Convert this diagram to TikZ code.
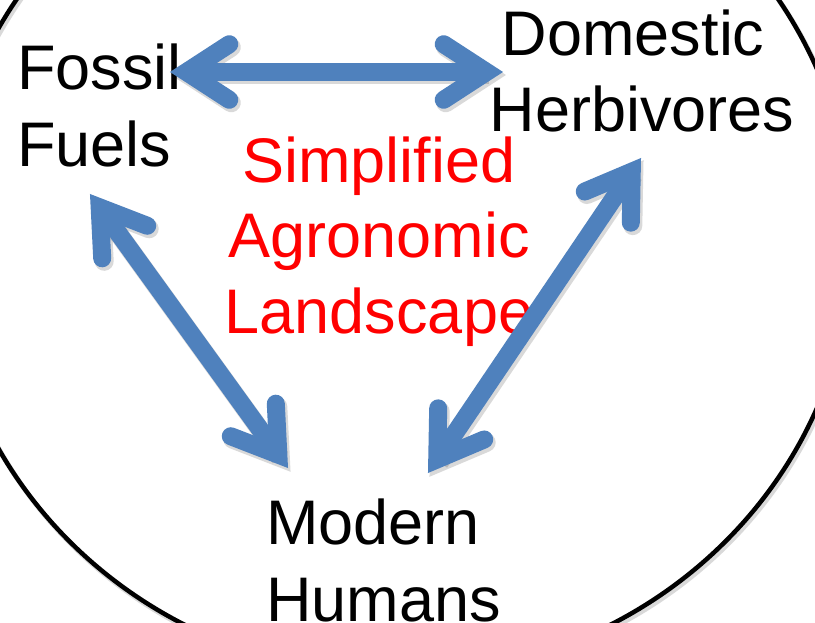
\documentclass[tikz,border=0pt]{standalone}
\usepackage{fontspec}
\setmainfont{Liberation Sans}
\usetikzlibrary{calc}
\definecolor{arrowblue}{RGB}{79,129,189}
\definecolor{labelred}{RGB}{255,0,0}
\newcommand\chevarrow[2]{%
  \coordinate (#1v) at ($(#1)!16.5pt!(#2)$);
  \coordinate (#2v) at ($(#2)!16.5pt!(#1)$);
  \draw[shaft] (#1v) -- (#2v);
  \draw[barb] ($(#1v)!51pt!33:(#2)$) -- (#1v) -- ($(#1v)!51pt!-33:(#2)$);
  \draw[barb] ($(#2v)!51pt!33:(#1)$) -- (#2v) -- ($(#2v)!51pt!-33:(#1)$);
}
\begin{document}
\begin{tikzpicture}[x=1pt,y=-1pt,
  lbl/.style={inner sep=0pt, font=\fontsize{63}{77}\selectfont},
  shaft/.style={draw=arrowblue, line width=18pt, line cap=butt},
  barb/.style={draw=arrowblue, line width=18pt, line cap=round, line join=miter, miter limit=10},
  ring/.style={draw=black, line width=4.5pt},
  shade/.style={transform canvas={shift={(2pt,-3pt)}}, opacity=0.15,
    shaft/.style={draw=black, line width=19pt, line cap=butt},
    barb/.style={draw=black, line width=19pt, line cap=round, line join=miter, miter limit=10},
    ring/.style={draw=black, line width=5pt}},
]
\useasboundingbox (0,0) rectangle (815,623);
\clip (0,0) rectangle (815,623);
\fill[white] (0,0) rectangle (815,623);

% arrow end points
\coordinate (a1) at (170,72);
\coordinate (b1) at (503,72);
\coordinate (a2) at (90,194);
\coordinate (b2) at (288,468);
\coordinate (a3) at (641,158);
\coordinate (b3) at (428,473);

% outer circle
\begin{scope}[shade]
  \draw[ring] (397.5,238.5) ellipse [x radius=455pt, y radius=437pt];
\end{scope}
\draw[ring] (397.5,238.5) ellipse [x radius=455pt, y radius=437pt];

% labels (base anchor = baseline of the last line)
\node[lbl, anchor=base west, align=left] (ff) at (17,167) {Fossil\\Fuels};
\node[lbl, anchor=base, align=center] (dh) at (642,132) {Domestic\kern0.278em\\Herbivores};
\node[lbl, anchor=base west, align=left] (mh) at (266,621) {Modern\\Humans};
\node[lbl, anchor=base, align=center, text=labelred, font=\fontsize{63}{75.5}\selectfont] (sal) at (379,333) {Simplified\\Agronomic\\Landscape};

% arrows
\begin{scope}[shade]
  \chevarrow{a1}{b1}
  \chevarrow{a2}{b2}
  \chevarrow{a3}{b3}
\end{scope}
\chevarrow{a1}{b1}
\chevarrow{a2}{b2}
\chevarrow{a3}{b3}
\end{tikzpicture}
\end{document}
